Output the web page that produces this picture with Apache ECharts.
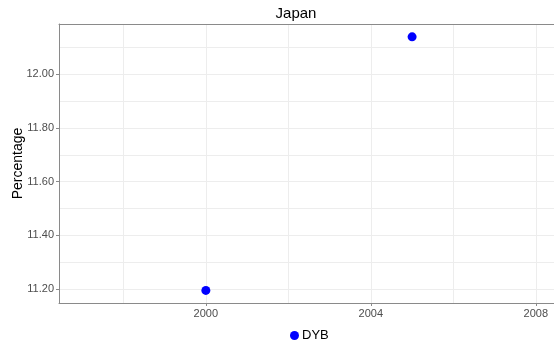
<!DOCTYPE html>
<html><head><meta charset="utf-8">
<script src="https://cdn.jsdelivr.net/npm/echarts@6/dist/echarts.min.js"></script>
<style>html,body{margin:0;padding:0;background:#fff}#c{width:554px;height:347px}</style>
</head><body><div id="c"></div>
<script>
var years = [2000, 2005];
var values = [11.194, 12.140];
var seriesName = 'DYB';
var xMajorTicks = [2000, 2004, 2008];
var xMinorTicks = [1998, 2002, 2006];
var yMajorTicks = [11.2, 11.4, 11.6, 11.8, 12.0];
var yMinorTicks = [11.3, 11.5, 11.7, 11.9, 12.1];
var xRange = [1996.44, 2008.44];
var yRange = [11.147, 12.188];

var font = 'Liberation Sans, Arial, sans-serif';
var gridColor = '#ededed';
var axisColor = '#8a8a8a';
var chart = echarts.init(document.getElementById('c'));
chart.setOption({
  animation: false,
  title: { text: 'Japan', left: 291, textAlign: 'center', top: 1,
    textStyle: { fontFamily: font, fontSize: 15, fontWeight: 'normal', color: '#000' } },
  grid: { left: 59, right: 0, top: 24, bottom: 44, containLabel: false, outerBoundsMode: 'none' },
  legend: { data: [{ name: seriesName, icon: 'circle' }], left: 285, top: 324, itemWidth: 9, itemHeight: 9, itemGap: 4,
    textStyle: { fontFamily: font, fontSize: 13, color: '#000', padding: [0,0,0,-2] } },
  xAxis: [
    { type: 'value', min: xRange[0], max: xRange[1],
      axisLine: { show: true, lineStyle: { color: axisColor, width: 1 } },
      axisTick: { show: true, length: 3, customValues: xMajorTicks, lineStyle: { color: axisColor } },
      axisLabel: { customValues: xMajorTicks, fontFamily: font, fontSize: 11, color: '#4d4d4d', margin: 5,
        formatter: function(v){ return String(v); } },
      splitLine: { show: true, lineStyle: { color: gridColor, width: 1 } } },
    { type: 'value', min: xRange[0], max: xRange[1], position: 'bottom',
      axisLine: { show: false }, axisTick: { show: false, customValues: xMinorTicks },
      axisLabel: { show: false, customValues: xMinorTicks },
      splitLine: { show: true, lineStyle: { color: gridColor, width: 1 } } },
    { type: 'value', min: xRange[0], max: xRange[1], position: 'top',
      axisLine: { show: true, lineStyle: { color: axisColor, width: 1 } }, axisTick: { show: false },
      axisLabel: { show: false }, splitLine: { show: false } }
  ],
  yAxis: [
    { type: 'value', min: yRange[0], max: yRange[1], name: 'Percentage', nameLocation: 'middle', nameGap: 34,
      nameMoveOverlap: false,
      nameTextStyle: { fontFamily: font, fontSize: 14, color: '#000' },
      axisLine: { show: true, lineStyle: { color: axisColor, width: 1 } },
      axisTick: { show: true, length: 3, customValues: yMajorTicks, lineStyle: { color: axisColor } },
      axisLabel: { customValues: yMajorTicks, fontFamily: font, fontSize: 11, color: '#4d4d4d', margin: 5,
        formatter: function(v){ return v.toFixed(2); } },
      splitLine: { show: true, lineStyle: { color: gridColor, width: 1 } } },
    { type: 'value', min: yRange[0], max: yRange[1], position: 'left',
      axisLine: { show: false }, axisTick: { show: false, customValues: yMinorTicks },
      axisLabel: { show: false, customValues: yMinorTicks },
      splitLine: { show: true, lineStyle: { color: gridColor, width: 1 } } }
  ],
  series: [{ name: seriesName, type: 'scatter', xAxisIndex: 0, yAxisIndex: 0, symbolSize: 9,
    itemStyle: { color: '#0000ff', opacity: 1 },
    data: years.map(function(y, i){ return [y, values[i]]; }) }]
});
</script></body></html>
